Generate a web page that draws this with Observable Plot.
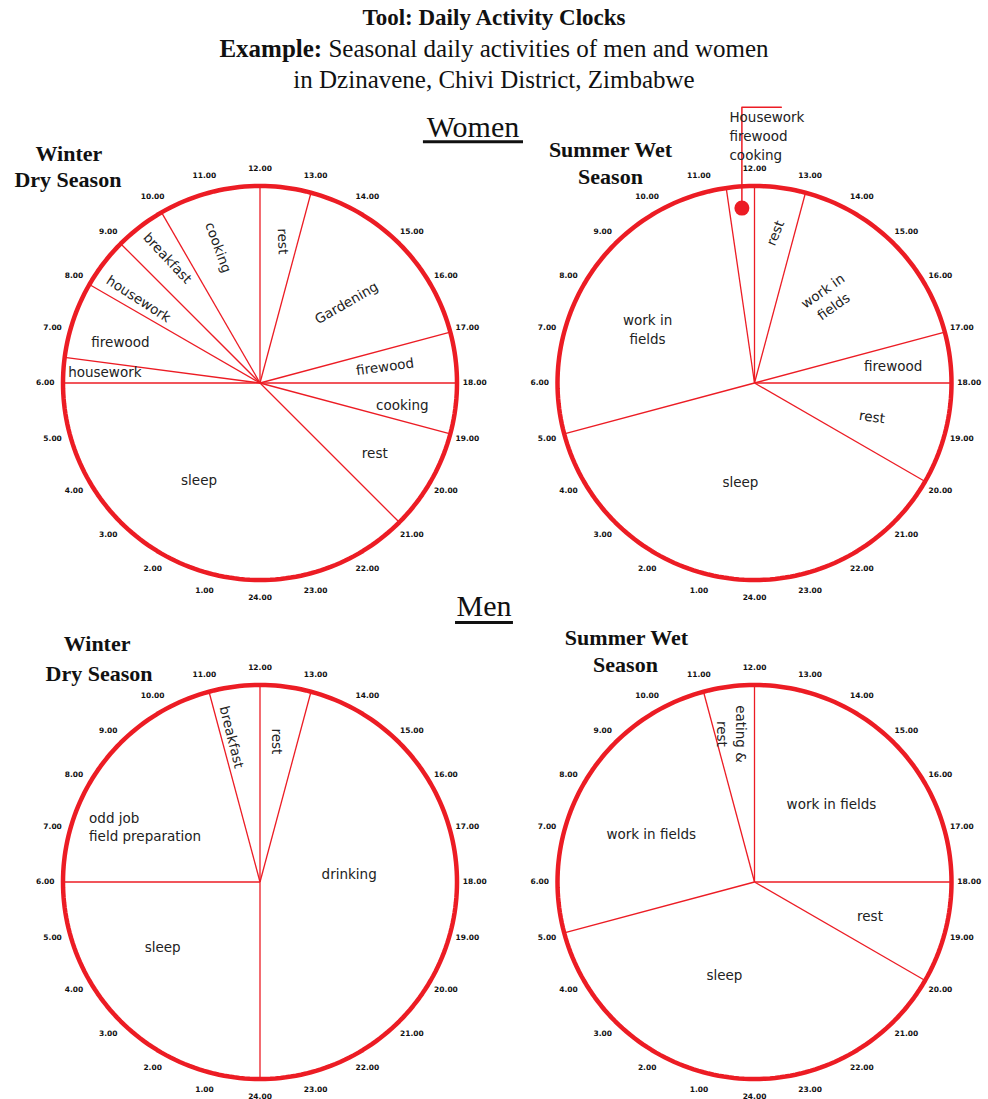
<!DOCTYPE html>
<html>
<head>
<meta charset="utf-8">
<script src="https://cdn.jsdelivr.net/npm/d3@7"></script>
<script src="https://cdn.jsdelivr.net/npm/@observablehq/plot@0.6"></script>
<style>
  html, body { margin: 0; padding: 0; background: #fff; }
  #head { width: 988px; height: 98px; box-sizing: border-box; padding-top: 2px;
          text-align: center; font-family: "Liberation Serif", "Times New Roman", serif; color: #111; }
  #head .t1 { font-size: 23px; line-height: 31px; font-weight: bold; }
  #head .t2 { font-size: 25px; line-height: 31px; }
  #chart svg { display: block; overflow: visible; }
</style>
</head>
<body>
<div id="head">
  <div class="t1">Tool: Daily Activity Clocks</div>
  <div class="t2"><b>Example:</b> Seasonal daily activities of men and women</div>
  <div class="t2">in Dzinavene, Chivi District, Zimbabwe</div>
</div>
<div id="chart"></div>
<script>
// ---------------- DATA ----------------
const sexes = ["Women", "Men"];
const seasons = ["Winter Dry Season", "Summer Wet Season"];

const hourTicks = [1,2,3,4,5,6,7,8,9,10,11,12,13,14,15,16,17,18,19,20,21,22,23,24];
const hourTickLabels = ["1.00","2.00","3.00","4.00","5.00","6.00","7.00","8.00","9.00","10.00","11.00","12.00",
  "13.00","14.00","15.00","16.00","17.00","18.00","19.00","20.00","21.00","22.00","23.00","24.00"];

// Women – Winter Dry Season
const womenWinterActivities = ["rest","Gardening","firewood","cooking","rest","sleep","housework","firewood","housework","breakfast","cooking"];
const womenWinterStart = [12, 13, 17, 18, 19, 21, 6, 6.5, 8, 9, 10];
const womenWinterEnd   = [13, 17, 18, 19, 21, 6, 6.5, 8, 9, 10, 12];

// Women – Summer Wet Season
const womenSummerActivities = ["Housework\nfirewood\ncooking","rest","work in\nfields","firewood","rest","sleep","work in\nfields"];
const womenSummerStart = [11.45, 12, 13, 17, 18, 20, 5];
const womenSummerEnd   = [12, 13, 17, 18, 20, 5, 11.45];

// Men – Winter Dry Season
const menWinterActivities = ["breakfast","rest","drinking","sleep","odd job\nfield preparation"];
const menWinterStart = [11, 12, 13, 24, 6];
const menWinterEnd   = [12, 13, 24, 6, 11];

// Men – Summer Wet Season
const menSummerActivities = ["eating &\nrest","work in fields","rest","sleep","work in fields"];
const menSummerStart = [11, 12, 18, 20, 5];
const menSummerEnd   = [12, 18, 20, 5, 11];

// ---------------- LAYOUT (label placement: clock hour, radius fraction, rotation, anchor) ----------------
const womenWinterLabelAt = [[12.65,0.73,88],[15.1,0.6,-30],[17.46,0.64,-8],[18.55,0.73,0],[20.07,0.68,0],
  [2.17,0.575,0],[6.29,0.79,0],[7.12,0.74,0],[8.35,0.75,33],[9.6,0.79,47],[10.9,0.72,70]];
const womenSummerLabelAt = [[11.615,1.264,0,"start"],[12.49,0.77,-68],[14.7,0.57,-35],[17.5,0.71,0],[19.03,0.62,8],
  [0.55,0.5,0],[7.81,0.61,0]];
const menWinterLabelAt = [[11.3,0.75,76],[12.49,0.72,90],[17.6,0.455,0],[3.79,0.59,0],[7.21,0.913,0,"start"]];
const menSummerLabelAt = [[11.43,0.76,90],[14.95,0.56,0],[19.07,0.61,0],[1.21,0.49,0],[7.69,0.58,0]];

const titleLines = [
  ["Women","Winter Dry Season","Winter",-0.97,1.162],
  ["Women","Winter Dry Season","Dry Season",-0.975,1.03],
  ["Women","Summer Wet Season","Summer Wet",-0.731,1.183],
  ["Women","Summer Wet Season","Season",-0.731,1.046],
  ["Men","Winter Dry Season","Winter",-0.827,1.208],
  ["Men","Winter Dry Season","Dry Season",-0.817,1.056],
  ["Men","Summer Wet Season","Summer Wet",-0.65,1.239],
  ["Men","Summer Wet Season","Season",-0.655,1.10]
];
const headers = [
  {sex:"Women", season:"Winter Dry Season", text:"Women", x:1.081, y:1.30, x1:0.827, x2:1.335, uy:1.225},
  {sex:"Men", season:"Winter Dry Season", text:"Men", x:1.137, y:1.40, x1:0.99, x2:1.284, uy:1.317}
];

// ---------------- BUILD ----------------
const RED = "#ec1c24";
const clockKeys = [["Women","Winter Dry Season"],["Women","Summer Wet Season"],["Men","Winter Dry Season"],["Men","Summer Wet Season"]];
const clockActs = [womenWinterActivities, womenSummerActivities, menWinterActivities, menSummerActivities];
const clockStarts = [womenWinterStart, womenSummerStart, menWinterStart, menSummerStart];
const clockEnds = [womenWinterEnd, womenSummerEnd, menWinterEnd, menSummerEnd];
const clockLabels = [womenWinterLabelAt, womenSummerLabelAt, menWinterLabelAt, menSummerLabelAt];

const ang = h => (h - 12) * Math.PI / 12;
const px = (h, r) => r * Math.sin(ang(h));
const py = (h, r) => r * Math.cos(ang(h));

const wedges = clockKeys.flatMap(([sex, season], i) => clockActs[i].map((activity, j) => {
  const s = clockStarts[i][j], e = clockEnds[i][j];
  const [lh, lr, rot, anchor = "middle"] = clockLabels[i][j];
  return {sex, season, activity, start: s, end: e, mid: s + ((e - s + 24) % 24) / 2,
          lx: px(lh, lr), ly: py(lh, lr), lr, rotate: rot, anchor};
}));

const rim = clockKeys.flatMap(([sex, season], i) =>
  d3.range(0, 24.001, 0.1).map(h => ({sex, season, clock: i, x: px(h, 1), y: py(h, 1)})));

const ticks = clockKeys.flatMap(([sex, season]) =>
  hourTicks.map((h, k) => ({sex, season, label: hourTickLabels[k], x: px(h, 1.09), y: py(h, 1.09)})));

const callouts = wedges.filter(d => d.lr > 1);
const leader = callouts.flatMap((d, i) => {
  const x0 = px(d.mid, 0.89), y0 = py(d.mid, 0.89);
  return [{...d, id: i, x: x0, y: y0}, {...d, id: i, x: x0, y: 1.40}, {...d, id: i, x: x0 + 0.2, y: 1.40}];
});

const titles = titleLines.map(([sex, season, text, x, y]) => ({sex, season, text, x, y}));

const D = 210 / 197;
const SANS = "DejaVu Sans, Verdana, sans-serif";
const SERIF = "Liberation Serif, Times New Roman, serif";
const M = {top: 74.5, right: 24, bottom: 7.5, left: 49.5};

const chart = Plot.plot({
  width: 988,
  height: 1001,
  marginTop: M.top, marginRight: M.right, marginBottom: M.bottom, marginLeft: M.left,
  facet: {marginTop: M.top, marginRight: M.right, marginBottom: M.bottom, marginLeft: M.left},
  x: {domain: [-D, D], axis: null},
  y: {domain: [-D, D], axis: null},
  fx: {domain: seasons, paddingInner: 74.5 / 494.5, paddingOuter: 0, round: false, axis: null, label: null},
  fy: {domain: sexes, paddingInner: 79 / 499, paddingOuter: 0, round: false, axis: null, label: null},
  style: {background: "white", overflow: "visible"},
  marks: [
    Plot.link(wedges, {x1: 0, y1: 0, x2: d => px(d.start, 1), y2: d => py(d.start, 1),
      fx: "season", fy: "sex", stroke: RED, strokeWidth: 1.3}),
    Plot.line(rim, {x: "x", y: "y", z: "clock", fx: "season", fy: "sex", stroke: RED, strokeWidth: 4.5}),
    Plot.line(leader, {x: "x", y: "y", z: "id", fx: "season", fy: "sex", stroke: RED, strokeWidth: 1.5}),
    Plot.dot(callouts, {x: d => px(d.mid, 0.89), y: d => py(d.mid, 0.89), r: 7.5, fill: RED,
      fx: "season", fy: "sex"}),
    Plot.text(ticks, {x: "x", y: "y", text: "label", fx: "season", fy: "sex",
      fontFamily: SANS, fontSize: 7.5, fontWeight: "bold", fill: "#111"}),
    Plot.text(wedges.filter(d => d.anchor === "middle"), {x: "lx", y: "ly", text: "activity", rotate: "rotate",
      fx: "season", fy: "sex", fontFamily: SANS, fontSize: 13.5, lineHeight: 1.4, fill: "#222"}),
    Plot.text(wedges.filter(d => d.anchor === "start"), {x: "lx", y: "ly", text: "activity", rotate: "rotate",
      textAnchor: "start", fx: "season", fy: "sex", fontFamily: SANS, fontSize: 13.5, lineHeight: 1.4, fill: "#222"}),
    Plot.text(titles, {x: "x", y: "y", text: "text", fx: "season", fy: "sex",
      fontFamily: SERIF, fontSize: 22, fontWeight: "bold", fill: "#111"}),
    Plot.text(headers, {x: "x", y: "y", text: "text", fx: "season", fy: "sex",
      fontFamily: SERIF, fontSize: 30, fill: "#111"}),
    Plot.link(headers, {x1: "x1", x2: "x2", y1: "uy", y2: "uy", fx: "season", fy: "sex",
      stroke: "#111", strokeWidth: 3})
  ]
});
document.getElementById("chart").appendChild(chart);
</script>
</body>
</html>
